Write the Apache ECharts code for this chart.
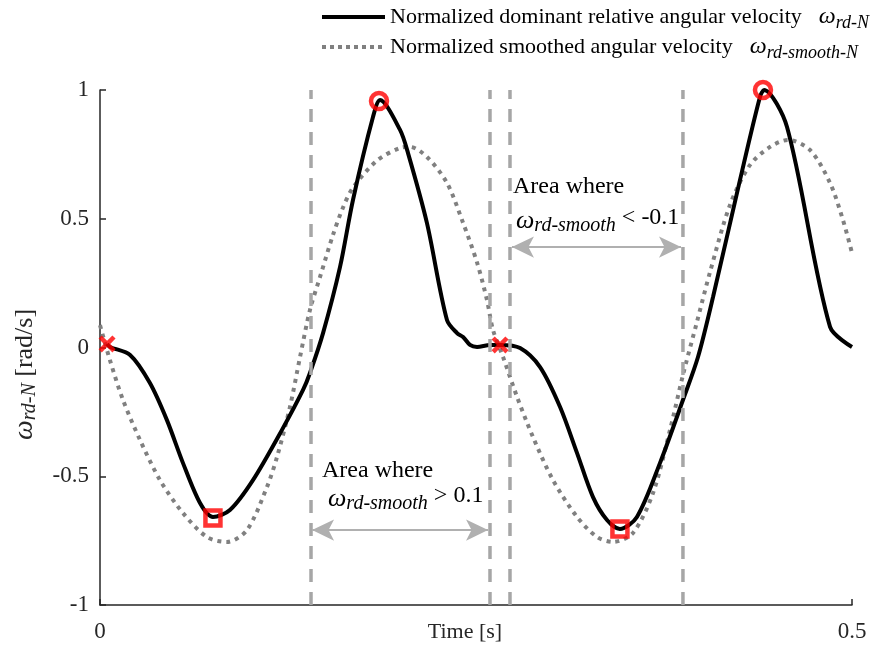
<!DOCTYPE html>
<html>
<head>
<meta charset="utf-8">
<script src="https://cdn.jsdelivr.net/npm/echarts@6/dist/echarts.min.js"></script>
<style>html,body{margin:0;padding:0;background:#fff}#c{width:870px;height:645px}</style>
</head>
<body>
<div id="c"></div>
<script>
// ---- data ----
const tBlack = [0.0047,0.0066,0.020,0.0332,0.0445,0.0552,0.0665,0.0751,0.0864,0.1017,0.1210,0.1350,0.1396,0.1483,0.1596,0.1682,0.1815,0.1862,0.1995,0.2048,0.2174,0.2307,0.2374,0.2414,0.2460,0.2507,0.2593,0.2660,0.2793,0.2926,0.3059,0.3172,0.3278,0.3371,0.3457,0.3570,0.3723,0.3876,0.3976,0.4076,0.4255,0.4388,0.4415,0.4568,0.4854,0.5];
const vBlack = [0.014,0.002,-0.029,-0.138,-0.282,-0.449,-0.604,-0.658,-0.631,-0.515,-0.320,-0.165,-0.099,0.056,0.313,0.573,0.895,0.961,0.845,0.755,0.483,0.107,0.056,0.041,0.010,0.002,0.010,0.010,-0.002,-0.076,-0.231,-0.410,-0.581,-0.670,-0.705,-0.658,-0.449,-0.204,-0.037,0.196,0.650,0.973,1.0,0.856,0.080,0.002];
const tSmooth = [0,0.0066,0.0153,0.0266,0.0399,0.0552,0.0711,0.0844,0.0977,0.1110,0.1177,0.1263,0.1330,0.1396,0.1463,0.1549,0.1616,0.1682,0.1842,0.1995,0.2061,0.2174,0.2307,0.2414,0.2507,0.2573,0.2613,0.2680,0.2773,0.2879,0.3012,0.3172,0.3305,0.3411,0.3544,0.3677,0.3790,0.3876,0.3969,0.4056,0.4189,0.4322,0.4455,0.4574,0.4721,0.4854,0.4940,0.5];
const vSmooth = [0.087,-0.049,-0.204,-0.359,-0.515,-0.643,-0.736,-0.755,-0.709,-0.542,-0.425,-0.231,-0.037,0.146,0.274,0.437,0.544,0.621,0.726,0.775,0.779,0.740,0.639,0.484,0.330,0.184,0.068,-0.037,-0.192,-0.348,-0.515,-0.658,-0.736,-0.755,-0.720,-0.565,-0.320,-0.107,0.099,0.293,0.554,0.709,0.779,0.806,0.767,0.639,0.495,0.367];
const tPeaks = [0.1855,0.4408];   const vPeaks = [0.957,1.0];
const tValleys = [0.0751,0.3457]; const vValleys = [-0.662,-0.705];
const tZeros = [0.0047,0.2660];   const vZeros = [0.014,0.010];
const tBounds = [0.1403,0.2593,0.2726,0.3876];
const tArrowStart = [0.1410,0.2739];
const tArrowEnd = [0.2580,0.3863];
const vArrow = [-0.709,0.390];
const legendNames = ['Normalized dominant relative angular velocity','Normalized smoothed angular velocity'];
const legendSubs = ['rd-N','rd-smooth-N'];

const FONT = 'Liberation Serif';
const zip = (a,b)=>a.map((x,i)=>[x,b[i]]);

const chart = echarts.init(document.getElementById('c'), null, {renderer:'canvas'});

function rich(color, main, w, sub, mainAlign, gap){
  return {
    n:{fontFamily:FONT,fontSize:main,color:color,fill:color,lineHeight:30,verticalAlign:mainAlign||'middle'},
    w:{fontFamily:FONT,fontSize:w,fontStyle:'italic',color:color,fill:color,lineHeight:30,verticalAlign:'middle'},
    s:{fontFamily:FONT,fontSize:sub,fontStyle:'italic',color:color,fill:color,lineHeight:sub,verticalAlign:'bottom'},
    g:{fontFamily:FONT,fontSize:main,color:color,fill:color,lineHeight:30,width:gap||12}
  };
}

const series = [
  {name:legendNames[1], type:'line', data:zip(tSmooth,vSmooth), symbol:'none', smooth:0.3,
   lineStyle:{color:'#808080',width:4,type:[4,5],cap:'butt'}, z:2, silent:true},
  {name:legendNames[0], type:'line', data:zip(tBlack,vBlack), symbol:'none', smooth:0.3,
   lineStyle:{color:'#000',width:4}, z:3, silent:true}
];
tBounds.forEach((t,i)=>{
  series.push({name:'b'+i, type:'line', data:[[t,-1],[t,1]], symbol:'none',
    lineStyle:{color:'#a6a6a6',width:3.5,type:[13,10]}, z:4, silent:true});
});
series.push({name:'arrows', type:'line', data:[], silent:true,
  markLine:{silent:true, symbol:['arrow','arrow'], symbolSize:[16,22], label:{show:false},
    lineStyle:{color:'#b0b0b0',width:2,type:'solid'},
    data: vArrow.map((v,i)=>[{coord:[tArrowStart[i],v]},{coord:[tArrowEnd[i],v]}])}});
series.push({name:'peaks', type:'scatter', data:zip(tPeaks,vPeaks), symbol:'circle', symbolSize:16,
  itemStyle:{color:'rgba(0,0,0,0)',borderColor:'#ff0000',borderWidth:4.5}, z:6, silent:true});
series.push({name:'valleys', type:'scatter', data:zip(tValleys,vValleys), symbol:'rect', symbolSize:15,
  itemStyle:{color:'rgba(0,0,0,0)',borderColor:'#ff0000',borderWidth:4.5}, z:6, silent:true});
series.push({name:'zeros', type:'scatter', data:zip(tZeros,vZeros),
  symbol:'path://M0,3 L3,0 L8,5 L13,0 L16,3 L11,8 L16,13 L13,16 L8,11 L3,16 L0,13 L5,8 Z', symbolSize:17,
  itemStyle:{color:'#ff0000'}, z:6, silent:true});

const legendRich = rich('#000',22,24,18,'middle',17);
legendRich.s.lineHeight = 14;
const option = {
  animation:false,
  backgroundColor:'#fff',
  grid:{left:100,right:18,top:90,bottom:40,containLabel:false,outerBoundsMode:'none'},
  xAxis:{type:'value', min:0, max:0.5, interval:0.5,
    axisLine:{show:true,onZero:false,lineStyle:{color:'#262626',width:1.5}},
    axisTick:{show:true,inside:true,length:6,lineStyle:{color:'#262626',width:1.5}},
    splitLine:{show:false},
    axisLabel:{fontFamily:FONT,fontSize:23,color:'#262626',margin:15,formatter:v=>String(v)},
    name:'Time [s]', nameLocation:'middle', nameGap:16, nameMoveOverlap:false,
    nameTextStyle:{fontFamily:FONT,fontSize:22,color:'#262626',verticalAlign:'top',padding:[0,22,0,0]}
  },
  yAxis:{type:'value', min:-1, max:1, interval:0.5,
    axisLine:{show:true,onZero:false,lineStyle:{color:'#262626',width:1.5}},
    axisTick:{show:true,inside:true,length:6,lineStyle:{color:'#262626',width:1.5}},
    splitLine:{show:false},
    axisLabel:{fontFamily:FONT,fontSize:23,color:'#262626',margin:11,formatter:v=>String(v)},
    name:'{w|ω}{s|rd-N}{n| [rad/s]}', nameLocation:'middle', nameGap:60, nameMoveOverlap:false,
    nameTextStyle:{padding:[0,54,0,0],rich:rich('#262626',26,28,20)}
  },
  graphic:[
    {type:'line', shape:{x1:322,y1:17,x2:385,y2:17}, style:{stroke:'#000',lineWidth:4}, silent:true},
    {type:'line', shape:{x1:322,y1:47,x2:385,y2:47}, style:{stroke:'#808080',lineWidth:4,lineDash:[4,4]}, silent:true},
    {type:'text', x:390, y:17, style:{text:'{n|'+legendNames[0]+'}{g| }{w|ω}{s|'+legendSubs[0]+'}', rich:legendRich, verticalAlign:'middle'}, silent:true},
    {type:'text', x:390, y:47, style:{text:'{n|'+legendNames[1]+'}{g| }{w|ω}{s|'+legendSubs[1]+'}', rich:legendRich, verticalAlign:'middle'}, silent:true},
    {type:'text', left:322, top:459, style:{text:'Area where', font:'24px "Liberation Serif"', fill:'#000'}},
    {type:'text', left:328, top:484, style:{text:'{w|ω}{s|rd-smooth}{n| > 0.1}', rich:rich('#000',24,26,20,'top')}},
    {type:'text', left:513, top:175, style:{text:'Area where', font:'24px "Liberation Serif"', fill:'#000'}},
    {type:'text', left:516, top:206, style:{text:'{w|ω}{s|rd-smooth}{n| < -0.1}', rich:rich('#000',24,26,20,'top')}}
  ],
  series:series
};
chart.setOption(option);
</script>
</body>
</html>
